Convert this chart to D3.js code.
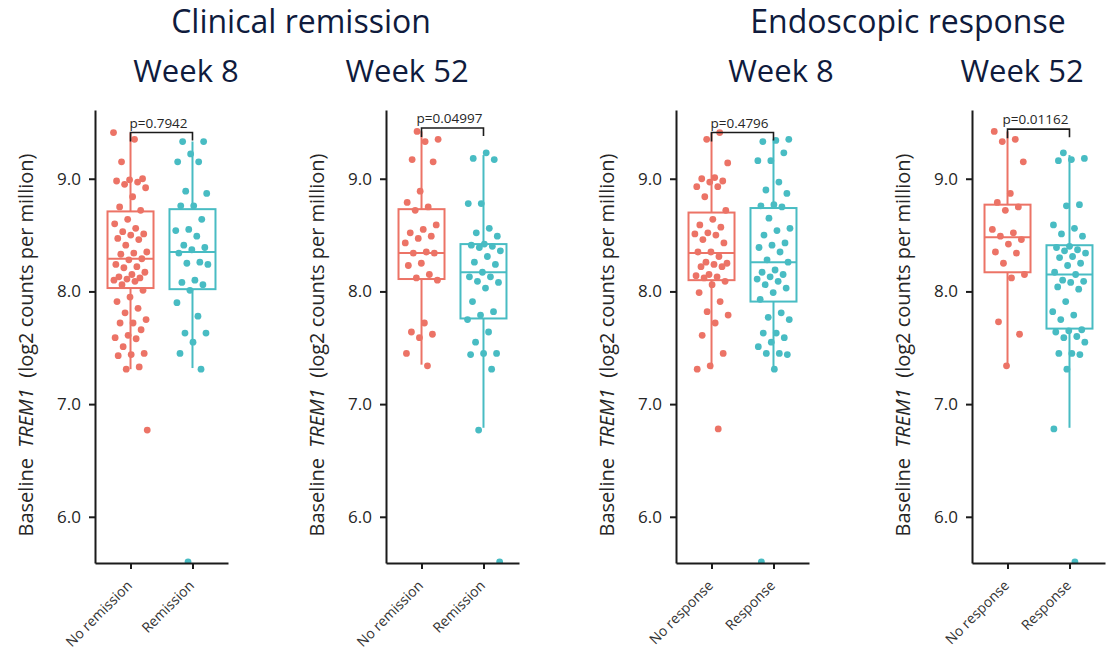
<!DOCTYPE html>
<html><head><meta charset="utf-8">
<script src="https://cdn.jsdelivr.net/npm/d3@7"></script>
<style>
html,body{margin:0;padding:0;background:#fff;}
svg{display:block;}
</style></head>
<body>
<svg id="chart" width="1107" height="650"></svg>
<script>
// ---------- data ----------
const remissionCategories = ["No remission", "Remission"];
const responseCategories = ["No response", "Response"];
const yTicks = [6.0, 7.0, 8.0, 9.0];
const groupTitles = ["Clinical remission", "Endoscopic response"];
const panelTitles = ["Week 8", "Week 52", "Week 8", "Week 52"];
const pValues = ["p=0.7942", "p=0.04997", "p=0.4796", "p=0.01162"];
const bracketLevels = [9.41, 9.45, 9.41, 9.44];

const remW8_no = [9.41, 9.35, 9.15, 9.00, 8.99, 8.98, 8.97, 8.95, 8.92, 8.84, 8.75, 8.72, 8.64, 8.60, 8.56, 8.53, 8.51, 8.50, 8.47, 8.46, 8.41, 8.35, 8.34, 8.33, 8.29, 8.28, 8.24, 8.22, 8.21, 8.17, 8.15, 8.13, 8.12, 8.11, 8.10, 8.09, 8.06, 8.01, 7.95, 7.91, 7.85, 7.81, 7.75, 7.72, 7.72, 7.66, 7.61, 7.59, 7.58, 7.51, 7.45, 7.44, 7.43, 7.33, 7.31, 6.77];
const remW8_yes = [9.33, 9.33, 9.22, 9.15, 9.15, 8.89, 8.87, 8.76, 8.76, 8.64, 8.55, 8.54, 8.49, 8.41, 8.39, 8.37, 8.34, 8.26, 8.25, 8.24, 8.10, 8.08, 8.06, 8.01, 7.90, 7.78, 7.63, 7.63, 7.55, 7.45, 7.31, 5.60];
const remW52_no = [9.42, 9.35, 9.33, 9.17, 9.15, 8.89, 8.79, 8.75, 8.72, 8.59, 8.55, 8.52, 8.49, 8.47, 8.43, 8.35, 8.34, 8.34, 8.25, 8.23, 8.15, 8.12, 8.10, 7.72, 7.64, 7.62, 7.59, 7.45, 7.34];
const remW52_yes = [9.23, 9.18, 9.17, 8.78, 8.78, 8.56, 8.52, 8.49, 8.42, 8.41, 8.40, 8.39, 8.36, 8.31, 8.26, 8.24, 8.17, 8.13, 8.13, 8.09, 8.08, 8.03, 7.91, 7.82, 7.79, 7.75, 7.64, 7.55, 7.45, 7.45, 7.44, 7.31, 6.77, 5.60];
const endW8_no = [9.41, 9.35, 9.14, 9.01, 9.00, 8.98, 8.97, 8.93, 8.93, 8.84, 8.72, 8.64, 8.59, 8.57, 8.52, 8.51, 8.50, 8.46, 8.43, 8.35, 8.35, 8.31, 8.26, 8.25, 8.24, 8.22, 8.22, 8.15, 8.14, 8.13, 8.12, 8.09, 8.06, 7.99, 7.91, 7.82, 7.79, 7.72, 7.61, 7.45, 7.34, 7.31, 6.78];
const endW8_yes = [9.35, 9.34, 9.33, 9.23, 9.16, 9.16, 8.97, 8.90, 8.87, 8.77, 8.76, 8.75, 8.65, 8.56, 8.54, 8.50, 8.43, 8.41, 8.39, 8.35, 8.28, 8.26, 8.19, 8.17, 8.15, 8.13, 8.11, 8.09, 8.06, 8.03, 7.99, 7.93, 7.81, 7.77, 7.75, 7.63, 7.63, 7.59, 7.55, 7.51, 7.45, 7.45, 7.44, 7.31, 5.60];
const endW52_no = [9.42, 9.35, 9.33, 9.15, 8.87, 8.79, 8.75, 8.72, 8.55, 8.52, 8.49, 8.46, 8.42, 8.35, 8.34, 8.25, 8.15, 8.12, 7.73, 7.62, 7.34];
const endW52_yes = [9.23, 9.18, 9.17, 9.16, 8.77, 8.76, 8.59, 8.56, 8.51, 8.49, 8.40, 8.39, 8.37, 8.36, 8.34, 8.31, 8.30, 8.25, 8.23, 8.17, 8.15, 8.10, 8.09, 8.08, 8.04, 8.02, 7.91, 7.82, 7.79, 7.75, 7.66, 7.65, 7.64, 7.60, 7.59, 7.55, 7.45, 7.45, 7.44, 7.31, 6.78, 5.60];

// box stats: [lower whisker, Q1, median, Q3, upper whisker]
const box_remW8_no = [7.31, 8.03, 8.29, 8.71, 9.41];
const box_remW8_yes = [7.32, 8.02, 8.35, 8.73, 9.33];
const box_remW52_no = [7.35, 8.11, 8.34, 8.73, 9.42];
const box_remW52_yes = [6.79, 7.76, 8.17, 8.42, 9.21];
const box_endW8_no = [7.31, 8.10, 8.34, 8.70, 9.41];
const box_endW8_yes = [7.32, 7.91, 8.26, 8.74, 9.33];
const box_endW52_no = [7.35, 8.17, 8.48, 8.77, 9.42];
const box_endW52_yes = [6.79, 7.67, 8.15, 8.41, 9.21];

// ---------- layout ----------
const svg = d3.select("#chart");
const colors = ["#EC7366", "#48BCC3"];
const axisColor = "#1b1b1b";
const textColor = "#262626";
const titleColor = "#0f1b3d";
const plotTop = 110, plotBottom = 563, plotWidth = 133;
const panelX = [95, 386, 676, 972];
const y = d3.scaleLinear().domain([5.59, 9.61]).range([plotBottom, plotTop]);

const panels = [
  {cats: remissionCategories, pts: [remW8_no, remW8_yes], box: [box_remW8_no, box_remW8_yes]},
  {cats: remissionCategories, pts: [remW52_no, remW52_yes], box: [box_remW52_no, box_remW52_yes]},
  {cats: responseCategories, pts: [endW8_no, endW8_yes], box: [box_endW8_no, box_endW8_yes]},
  {cats: responseCategories, pts: [endW52_no, endW52_yes], box: [box_endW52_no, box_endW52_yes]}
];

// titles
const groupTitleX = [301, 908];
groupTitles.forEach((t, i) => {
  svg.append("text").attr("x", groupTitleX[i]).attr("y", 33)
    .attr("text-anchor", "middle").attr("font-family", "Open Sans, sans-serif")
    .attr("font-size", 32).attr("fill", titleColor).text(t);
});
const panelTitleX = [186, 407, 781, 1022];
panelTitles.forEach((t, i) => {
  svg.append("text").attr("x", panelTitleX[i]).attr("y", 82)
    .attr("text-anchor", "middle").attr("font-family", "Open Sans, sans-serif")
    .attr("font-size", 31).attr("fill", titleColor).text(t);
});

const defs = svg.append("defs");

panels.forEach((p, pi) => {
  const x0 = panelX[pi];
  const x = d3.scalePoint().domain(p.cats).range([x0, x0 + plotWidth]).padding(0.573);
  const g = svg.append("g");

  defs.append("clipPath").attr("id", "clip" + pi)
    .append("rect").attr("x", x0).attr("y", 0).attr("width", plotWidth + 20).attr("height", plotBottom);

  const bw = 46;
  // boxes
  p.cats.forEach((c, ci) => {
    const b = p.box[ci], cx = x(c), col = colors[ci];
    const bg = g.append("g").attr("stroke", col).attr("stroke-width", 2).attr("fill", "none");
    bg.append("line").attr("x1", cx).attr("x2", cx).attr("y1", y(b[4])).attr("y2", y(b[3]));
    bg.append("line").attr("x1", cx).attr("x2", cx).attr("y1", y(b[1])).attr("y2", y(b[0]));
    bg.append("rect").attr("x", cx - bw / 2).attr("y", y(b[3])).attr("width", bw).attr("height", y(b[1]) - y(b[3]));
    bg.append("line").attr("x1", cx - bw / 2).attr("x2", cx + bw / 2).attr("y1", y(b[2])).attr("y2", y(b[2]));
  });
  // points (deterministic jitter)
  p.cats.forEach((c, ci) => {
    const cx = x(c), col = colors[ci];
    g.append("g").attr("clip-path", "url(#clip" + pi + ")")
      .selectAll("circle").data(p.pts[ci]).join("circle")
      .attr("cx", (d, i) => cx + ((((i * 0.618034) + pi * 0.37 + ci * 0.21) % 1) - 0.5) * 34)
      .attr("cy", d => y(d))
      .attr("r", 3.4).attr("fill", col);
  });

  // axes
  const ya = g.append("g").attr("transform", `translate(${x0},0)`)
    .call(d3.axisLeft(y).tickValues(yTicks).tickSize(6).tickSizeOuter(0).tickPadding(8).tickFormat(d3.format(".1f")));
  ya.select(".domain").attr("stroke", axisColor).attr("stroke-width", 2);
  ya.selectAll(".tick line").attr("stroke", axisColor).attr("stroke-width", 2);
  ya.selectAll(".tick text").attr("font-family", "Open Sans, sans-serif").attr("font-size", 17).attr("fill", textColor);

  const xa = g.append("g").attr("transform", `translate(0,${plotBottom})`)
    .call(d3.axisBottom(x).tickSize(6).tickSizeOuter(0).tickFormat(""));
  xa.select(".domain").attr("stroke", axisColor).attr("stroke-width", 2);
  xa.selectAll(".tick line").attr("stroke", axisColor).attr("stroke-width", 2);
  p.cats.forEach(c => {
    g.append("text").attr("transform", `translate(${x(c) - 1},${plotBottom + 20}) rotate(-45)`)
      .attr("text-anchor", "end").attr("dy", "0.35em")
      .attr("font-family", "Open Sans, sans-serif").attr("font-size", 14).attr("fill", "#333").text(c);
  });

  // y label
  const yl = g.append("text").attr("transform", `translate(${x0 - 69},345) rotate(-90)`)
    .attr("text-anchor", "middle").attr("dy", "0.35em")
    .attr("font-family", "Open Sans, sans-serif").attr("font-size", 20).attr("fill", textColor);
  yl.append("tspan").text("Baseline\u00a0\u00a0");
  yl.append("tspan").attr("font-style", "italic").text("TREM1");
  yl.append("tspan").text("\u00a0\u00a0(log2 counts per million)");

  // significance bracket
  const xa1 = x(p.cats[0]), xa2 = x(p.cats[1]), by = y(bracketLevels[pi]);
  g.append("path").attr("d", `M${xa1},${by + 9}V${by}H${xa2}V${by + 8}`)
    .attr("fill", "none").attr("stroke", axisColor).attr("stroke-width", 1.6);
  g.append("text").attr("x", (xa1 + xa2) / 2 - 3).attr("y", by - 5).attr("text-anchor", "middle")
    .attr("font-family", "Open Sans, sans-serif").attr("font-size", 13.5).attr("fill", textColor).text(pValues[pi]);
});
</script>
</body></html>
